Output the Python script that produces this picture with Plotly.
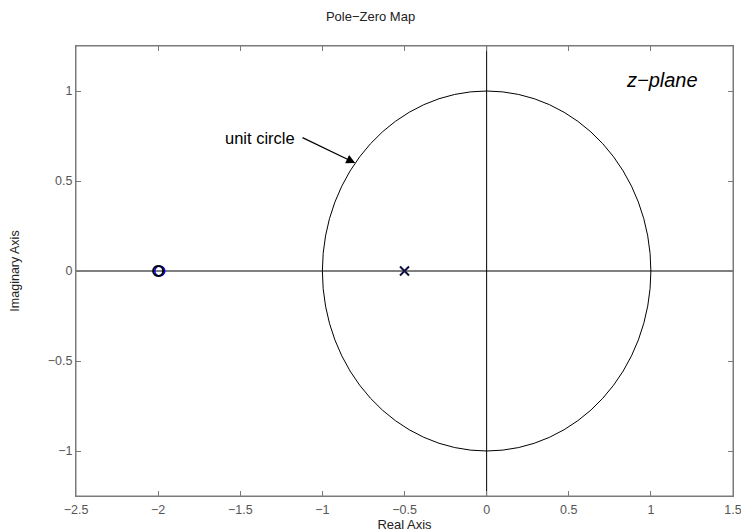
import plotly.graph_objects as go

# Data
zeros_re = [-2.0]
zeros_im = [0.0]
zeros_alt_re = [-1.99]   # slightly offset blue duplicate zero
zeros_alt_im = [0.0]
poles_re = [-0.5]
poles_im = [0.0]
circle_radius = 1.0
x_range = [-2.5, 1.5]
y_range = [-1.25, 1.25]
x_ticks = [-2.5, -2, -1.5, -1, -0.5, 0, 0.5, 1, 1.5]
x_ticklabels = ["\u22122.5", "\u22122", "\u22121.5", "\u22121", "\u22120.5", "0", "0.5", "1", "1.5"]
y_ticks = [-1, -0.5, 0, 0.5, 1]
y_ticklabels = ["\u22121", "\u22120.5", "0", "0.5", "1"]

FONT = "Liberation Sans, Arial, Helvetica, sans-serif"

fig = go.Figure()

# axis lines through origin
fig.add_trace(go.Scatter(x=x_range, y=[0, 0], mode="lines",
                         line=dict(color="black", width=1), hoverinfo="skip", showlegend=False))
fig.add_trace(go.Scatter(x=[0, 0], y=y_range, mode="lines",
                         line=dict(color="black", width=1), hoverinfo="skip", showlegend=False))

# zeros
fig.add_trace(go.Scatter(x=zeros_alt_re, y=zeros_alt_im, mode="markers",
                         marker=dict(symbol="circle-open", size=10, color="blue", line=dict(width=1.5)),
                         showlegend=False))
fig.add_trace(go.Scatter(x=zeros_re, y=zeros_im, mode="markers",
                         marker=dict(symbol="circle-open", size=10, color="black", line=dict(width=2)),
                         showlegend=False))
# poles
fig.add_trace(go.Scatter(x=poles_re, y=poles_im, mode="markers",
                         marker=dict(symbol="x-thin-open", size=9, color="#101040", line=dict(width=2)),
                         showlegend=False))

fig.update_layout(
    width=741, height=532,
    margin=dict(l=76, r=8, t=46, b=36, autoexpand=False),
    paper_bgcolor="white", plot_bgcolor="white",
    font=dict(family=FONT, size=12.5, color="#555555"),
    title=dict(text="Pole\u2212Zero Map", x=0.5, xanchor="center", y=0.97, yanchor="middle",
               font=dict(family=FONT, size=13, color="#222222")),
    shapes=[
        dict(type="circle", xref="x", yref="y",
             x0=-circle_radius, x1=circle_radius, y0=-circle_radius, y1=circle_radius,
             line=dict(color="black", width=1), layer="above"),
        dict(type="rect", xref="x domain", yref="y domain", x0=0, x1=1, y0=0, y1=1,
             line=dict(color="#7a7a7a", width=1), layer="above"),
    ],
    annotations=[
        dict(x=-0.8, y=0.6, ax=-1.13, ay=0.745, xref="x", yref="y", axref="x", ayref="y",
             text="", showarrow=True, arrowhead=2, arrowsize=1.5, arrowwidth=1.2, arrowcolor="black"),
        dict(x=-1.38, y=0.74, xref="x", yref="y", text="unit circle", showarrow=False,
             font=dict(family=FONT, size=16.5, color="black")),
        dict(x=1.07, y=1.06, xref="x", yref="y", text="<i>z\u2212plane</i>", showarrow=False,
             font=dict(family=FONT, size=20, color="black")),
    ],
)

fig.update_xaxes(range=x_range, tickvals=x_ticks, ticktext=x_ticklabels, automargin=False,
                 showgrid=False, zeroline=False, showline=True, linecolor="#7a7a7a", linewidth=1,
                 mirror="allticks", ticks="inside", ticklen=5, tickcolor="#7a7a7a", ticklabelstandoff=2,
                 ticklabeloverflow="allow",
                 title=dict(text="Real Axis", standoff=6, font=dict(family=FONT, size=13, color="#222222")))
fig.update_yaxes(range=y_range, tickvals=y_ticks, ticktext=y_ticklabels, automargin=False,
                 showgrid=False, zeroline=False, showline=True, linecolor="#7a7a7a", linewidth=1,
                 mirror="allticks", ticks="inside", ticklen=5, tickcolor="#7a7a7a",
                 ticklabeloverflow="allow",
                 title=dict(text="Imaginary Axis", standoff=25, font=dict(family=FONT, size=12.5, color="#222222")))

fig.write_html("out.html",
               config={"displayModeBar": False},
               post_script="document.body.style.margin='0';document.body.style.overflow='hidden';")
